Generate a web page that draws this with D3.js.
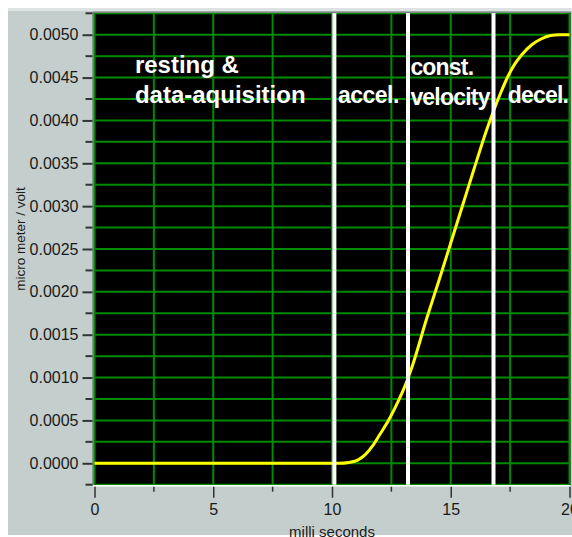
<!DOCTYPE html>
<html>
<head>
<meta charset="utf-8">
<script src="https://cdn.jsdelivr.net/npm/d3@7"></script>
<style>
  html, body { margin: 0; padding: 0; background: #ffffff; }
  svg { display: block; }
  text { font-family: "Liberation Sans", Arial, sans-serif; }
</style>
</head>
<body>
<svg id="chart" width="572" height="537"></svg>
<script>
// Displacement of the stage during one move (time in ms, displacement in micro meter / volt)
const timeMs = [0, 10.3, 10.7, 11.1, 11.4, 11.7, 12.0, 12.4, 12.8, 13.1, 13.4, 14.0, 14.5, 15.0,
                15.5, 16.0, 16.5, 16.8, 17.1, 17.4, 17.7, 18.0, 18.4, 18.8, 19.2, 19.6, 20.0];
const displacement = [0, 0, 0.00001, 0.00004, 0.0001, 0.0002, 0.00033, 0.00051, 0.00073, 0.00092,
                      0.00115, 0.0017, 0.00213, 0.00257, 0.00301, 0.00345, 0.00388, 0.00411,
                      0.00432, 0.00451, 0.00466, 0.00477, 0.00488, 0.00495, 0.00499, 0.005, 0.005];

// Boundaries between the motion phases (ms)
const phaseBounds = [10.1, 13.2, 16.8];

// Tick values
const xMajorTicks = [0, 5, 10, 15, 20];
const xMinorTicks = [2.5, 7.5, 12.5, 17.5];
const yMajorTicks = [0, 0.0005, 0.001, 0.0015, 0.002, 0.0025, 0.003, 0.0035, 0.004, 0.0045, 0.005];
const yMinorTicks = [-0.00025, 0.00025, 0.00075, 0.00125, 0.00175, 0.00225, 0.00275, 0.00325,
                     0.00375, 0.00425, 0.00475, 0.00525];

// Phase labels: text lines, left x in ms, first baseline in data units, font size
const phaseLabels = [
  { lines: ["resting &", "data-aquisition"], x: 1.7, y: 0.00455, size: 24, spacing: 0 },
  { lines: ["", "accel."], x: 10.25, y: 0.00455, size: 23, spacing: -0.5 },
  { lines: ["const.", "velocity"], x: 13.3, y: 0.00453, size: 23, spacing: -0.8 },
  { lines: ["", "decel."], x: 17.4, y: 0.00455, size: 23, spacing: -0.8 }
];

const svg = d3.select("#chart");

const x = d3.scaleLinear().domain([0, 20]).range([94.5, 569.5]);
const y = d3.scaleLinear().domain([-0.00025, 0.00525]).range([484.7, 13.3]);

// Window-like grey panel
svg.append("rect").attr("x", 8).attr("y", 10).attr("width", 564).attr("height", 525)
  .attr("fill", "#c3cecd");
svg.append("rect").attr("x", 8).attr("y", 8).attr("width", 564).attr("height", 3)
  .attr("fill", "#dde3e3");

const [x0, x1] = x.range();
const [yb, yt] = y.range();

// Plot background
svg.append("rect").attr("x", x0 - 1).attr("y", yt - 1)
  .attr("width", x1 - x0 + 2).attr("height", yb - yt + 2).attr("fill", "#000000");

// Grid
const grid = svg.append("g").attr("stroke", "#008a00").attr("stroke-width", 2);
grid.selectAll("line.v").data(xMajorTicks.concat(xMinorTicks)).join("line")
  .attr("class", "v")
  .attr("x1", d => x(d)).attr("x2", d => x(d)).attr("y1", yt).attr("y2", yb);
grid.selectAll("line.h").data(yMajorTicks.concat(yMinorTicks)).join("line")
  .attr("class", "h")
  .attr("x1", x0).attr("x2", x1).attr("y1", d => y(d)).attr("y2", d => y(d));

// Displacement curve
const points = timeMs.map((t, i) => [t, displacement[i]]);
svg.append("path")
  .datum(points)
  .attr("fill", "none")
  .attr("stroke", "#ffff00")
  .attr("stroke-width", 3)
  .attr("d", d3.line().x(d => x(d[0])).y(d => y(d[1])).curve(d3.curveMonotoneX));

// Phase boundary markers
svg.append("g").selectAll("line").data(phaseBounds).join("line")
  .attr("x1", d => x(d)).attr("x2", d => x(d)).attr("y1", yt - 1).attr("y2", yb)
  .attr("stroke", "#ffffff").attr("stroke-width", 4);

// Plot frame (inset look)
svg.append("line").attr("x1", x0 - 1.5).attr("x2", x1 + 1).attr("y1", yt - 1).attr("y2", yt - 1)
  .attr("stroke", "#7c8484").attr("stroke-width", 1.5);
svg.append("line").attr("x1", x0 - 1.5).attr("x2", x0 - 1.5).attr("y1", yt - 1).attr("y2", yb + 1)
  .attr("stroke", "#7c8484").attr("stroke-width", 1.5);
svg.append("line").attr("x1", x0 - 1.5).attr("x2", x1 + 1).attr("y1", yb + 1).attr("y2", yb + 1)
  .attr("stroke", "#ffffff").attr("stroke-width", 1.5);

// Phase labels
const lbl = svg.append("g").attr("fill", "#ffffff").attr("font-weight", "bold");
phaseLabels.forEach(p => {
  p.lines.forEach((s, i) => {
    if (!s) return;
    lbl.append("text").attr("x", x(p.x)).attr("y", y(p.y) + i * 30)
      .attr("font-size", p.size).attr("letter-spacing", p.spacing + "px").text(s);
  });
});

// Y axis
const yAxis = svg.append("g").attr("transform", `translate(${x0 - 2},0)`);
yAxis.call(d3.axisLeft(y).tickValues(yMajorTicks).tickSize(10).tickPadding(4)
  .tickFormat(d3.format(".4f")));
yAxis.select(".domain").remove();
yAxis.selectAll(".tick line").attr("stroke", "#333333").attr("stroke-width", 2);
yAxis.selectAll(".tick text").attr("font-size", 16).attr("fill", "#1a1a1a")
  .attr("font-family", "Liberation Sans, Arial, sans-serif");
yAxis.selectAll("line.minor").data(yMinorTicks).join("line").attr("class", "minor")
  .attr("x1", -7).attr("x2", 0).attr("y1", d => y(d)).attr("y2", d => y(d))
  .attr("stroke", "#333333").attr("stroke-width", 2);

// X axis
const xAxis = svg.append("g").attr("transform", `translate(0,${yb + 2})`);
xAxis.call(d3.axisBottom(x).tickValues(xMajorTicks).tickSize(11).tickPadding(6)
  .tickFormat(d3.format("d")));
xAxis.select(".domain").remove();
xAxis.selectAll(".tick line").attr("stroke", "#333333").attr("stroke-width", 1.5);
xAxis.selectAll(".tick text").attr("font-size", 16).attr("fill", "#1a1a1a")
  .attr("font-family", "Liberation Sans, Arial, sans-serif");
xAxis.selectAll("line.minor").data(xMinorTicks).join("line").attr("class", "minor")
  .attr("x1", d => x(d)).attr("x2", d => x(d)).attr("y1", 0).attr("y2", 5)
  .attr("stroke", "#333333").attr("stroke-width", 1.5);

// Axis titles
svg.append("text").attr("x", 332).attr("y", 537).attr("text-anchor", "middle")
  .attr("font-size", 15).attr("fill", "#1a1a1a").text("milli seconds");
svg.append("text").attr("transform", "translate(25,239) rotate(-90)").attr("text-anchor", "middle")
  .attr("font-size", 13.5).attr("fill", "#1a1a1a").text("micro meter / volt");
</script>
</body>
</html>
